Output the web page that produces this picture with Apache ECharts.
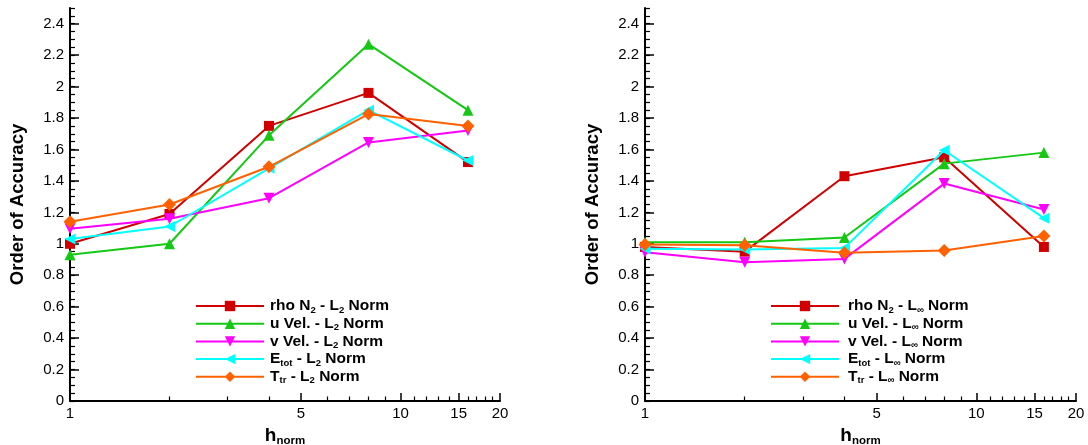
<!DOCTYPE html>
<html><head><meta charset="utf-8">
<script src="https://cdn.jsdelivr.net/npm/echarts@6/dist/echarts.min.js"></script>
<style>html,body{margin:0;padding:0;background:#fff}#c{width:1088px;height:445px}</style>
</head><body><div id="c"></div>
<script>
// ---------- data ----------
const hNorm = [1, 2, 4, 8, 16];

// L2 norm panel
const l2RhoN2 = [1.00, 1.19, 1.75, 1.96, 1.52];
const l2UVel  = [0.93, 1.00, 1.69, 2.27, 1.85];
const l2VVel  = [1.095, 1.16, 1.29, 1.645, 1.72];
const l2Etot  = [1.03, 1.11, 1.48, 1.85, 1.53];
const l2Ttr   = [1.14, 1.25, 1.49, 1.825, 1.75];

// L-infinity norm panel
const liRhoN2 = [0.98, 0.95, 1.43, 1.55, 0.98];
const liUVel  = [1.01, 1.01, 1.04, 1.51, 1.58];
const liVVel  = [0.947, 0.883, 0.904, 1.383, 1.218];
const liEtot  = [0.968, 0.964, 0.974, 1.595, 1.163];
const liTtr   = [0.996, 0.99, 0.943, 0.957, 1.049];

const l2Names = ['rho N2 - L2 Norm', 'u Vel. - L2 Norm', 'v Vel. - L2 Norm', 'Etot - L2 Norm', 'Ttr - L2 Norm'];
const liNames = ['rho N2 - Linf Norm', 'u Vel. - Linf Norm', 'v Vel. - Linf Norm', 'Etot - Linf Norm', 'Ttr - Linf Norm'];
const l2Labels = [
  '{g| }{m|rho N}{s|2}{m| - L}{s|2}{m| Norm}',
  '{g| }{m|u Vel. - L}{s|2}{m| Norm}',
  '{g| }{m|v Vel. - L}{s|2}{m| Norm}',
  '{g| }{m|E}{s|tot}{m| - L}{s|2}{m| Norm}',
  '{g| }{m|T}{s|tr}{m| - L}{s|2}{m| Norm}'
];
const liLabels = [
  '{g| }{m|rho N}{s|2}{m| - L}{s|∞}{m| Norm}',
  '{g| }{m|u Vel. - L}{s|∞}{m| Norm}',
  '{g| }{m|v Vel. - L}{s|∞}{m| Norm}',
  '{g| }{m|E}{s|tot}{m| - L}{s|∞}{m| Norm}',
  '{g| }{m|T}{s|tr}{m| - L}{s|∞}{m| Norm}'
];

// tick labels / tick positions
const xMajorTicks = [1, 5, 10, 15, 20];
const xMinorTicks = [2, 3, 4, 6, 7, 8, 9, 11, 12, 13, 14, 16, 17, 18, 19];
const yMajorTicks = [0, 0.2, 0.4, 0.6, 0.8, 1, 1.2, 1.4, 1.6, 1.8, 2, 2.2, 2.4];
const yMinorTicks = [];
for (let i = 0; i <= 50; i++) yMinorTicks.push(+(i * 0.05).toFixed(2));

// ---------- styles ----------
const FONT = '"Liberation Sans", Arial, Helvetica, sans-serif';
const colors = ['#d00000', '#14c814', '#ff00ff', '#00ffff', '#ff6000'];
const symbols = ['rect', 'triangle', 'triangle', 'triangle', 'diamond'];
const rotations = [0, 0, 180, 90, 0];
const sizes = [10, 11, 11, 11, 13];

function legendRich(gapW) {
  return {
    g: { width: gapW, fontSize: 10, lineHeight: 16 },
    m: { fontFamily: FONT, fontWeight: 'bold', fontSize: 15.5, color: '#000', lineHeight: 16, verticalAlign: 'top' },
    s: { fontFamily: FONT, fontWeight: 'bold', fontSize: 9.5, color: '#000', lineHeight: 9, padding: [7, 0, 0, 0], verticalAlign: 'top' }
  };
}

function makeAxes(gi) {
  const xs = [
    {
      type: 'log', logBase: 10, gridIndex: gi, min: 1, max: 20, position: 'bottom',
      axisLine: { show: true, onZero: false, lineStyle: { color: '#000', width: 2 } },
      axisTick: { show: true, inside: true, length: 8, customValues: xMajorTicks, lineStyle: { color: '#000', width: 1.5 } },
      axisLabel: { show: true, customValues: xMajorTicks, margin: 5, fontSize: 15, color: '#000', fontFamily: FONT },
      splitLine: { show: false },
      name: '{m|h}{s|norm}', nameLocation: 'middle', nameGap: 17,
      nameTextStyle: {
        rich: {
          m: { fontFamily: FONT, fontWeight: 'bold', fontSize: 19, color: '#000', lineHeight: 19, verticalAlign: 'top' },
          s: { fontFamily: FONT, fontWeight: 'bold', fontSize: 11.5, color: '#000', lineHeight: 11, padding: [9, 0, 0, 0], verticalAlign: 'top' }
        }
      }
    },
    {
      type: 'log', logBase: 10, gridIndex: gi, min: 1, max: 20, position: 'bottom',
      axisLine: { show: false },
      axisTick: { show: true, inside: true, length: 4.5, customValues: xMinorTicks, lineStyle: { color: '#000', width: 1.2 } },
      axisLabel: { show: false },
      splitLine: { show: false }
    }
  ];
  const ys = [
    {
      type: 'value', gridIndex: gi, min: 0, max: 2.5, position: 'left',
      axisLine: { show: true, onZero: false, lineStyle: { color: '#000', width: 2 } },
      axisTick: { show: true, inside: true, length: 9, customValues: yMajorTicks, lineStyle: { color: '#000', width: 1.5 } },
      axisLabel: { show: true, customValues: yMajorTicks, margin: 6, fontSize: 15, color: '#000', fontFamily: FONT },
      splitLine: { show: false },
      name: 'Order of Accuracy', nameLocation: 'middle', nameGap: 43,
      nameTextStyle: { fontFamily: FONT, fontWeight: 'bold', fontSize: 18.5, color: '#000' }
    },
    {
      type: 'value', gridIndex: gi, min: 0, max: 2.5, position: 'left',
      axisLine: { show: false },
      axisTick: { show: true, inside: true, length: 5, customValues: yMinorTicks, lineStyle: { color: '#000', width: 1.2 } },
      axisLabel: { show: false },
      splitLine: { show: false }
    }
  ];
  return { xs, ys };
}

function makeSeries(gi, names, arrays) {
  return names.map((n, i) => ({
    type: 'line', name: n,
    xAxisIndex: gi * 2, yAxisIndex: gi * 2,
    data: hNorm.map((h, k) => [h, arrays[i][k]]),
    symbol: symbols[i], symbolRotate: rotations[i], symbolSize: sizes[i],
    showAllSymbol: true,
    lineStyle: { color: colors[i], width: 2 },
    itemStyle: { color: colors[i] },
    emphasis: { disabled: true },
    animation: false,
    z: 3 + i
  }));
}

const a0 = makeAxes(0), a1 = makeAxes(1);
const l2Map = {}; l2Names.forEach((n, i) => l2Map[n] = l2Labels[i]);
const liMap = {}; liNames.forEach((n, i) => liMap[n] = liLabels[i]);

const option = {
  backgroundColor: '#fff',
  animation: false,
  grid: [
    { left: 70, top: 8, width: 430, height: 393, containLabel: false, outerBoundsMode: 'none' },
    { left: 645, top: 8, width: 431, height: 393, containLabel: false, outerBoundsMode: 'none' }
  ],
  xAxis: [...a0.xs, ...a1.xs],
  yAxis: [...a0.ys, ...a1.ys],
  legend: [
    {
      data: l2Names, orient: 'vertical', left: 195, top: 298, padding: 0,
      itemWidth: 68, itemHeight: 13, itemGap: 0.7,
      formatter: n => l2Map[n], textStyle: { rich: legendRich(1) },
      selectedMode: false
    },
    {
      data: liNames, orient: 'vertical', left: 770, top: 298, padding: 0,
      itemWidth: 68, itemHeight: 13, itemGap: 0.7,
      formatter: n => liMap[n], textStyle: { rich: legendRich(4) },
      selectedMode: false
    }
  ],
  series: [
    ...makeSeries(0, l2Names, [l2RhoN2, l2UVel, l2VVel, l2Etot, l2Ttr]),
    ...makeSeries(1, liNames, [liRhoN2, liUVel, liVVel, liEtot, liTtr])
  ]
};

const chart = echarts.init(document.getElementById('c'), null, { renderer: 'canvas' });
chart.setOption(option);
</script>
</body></html>
